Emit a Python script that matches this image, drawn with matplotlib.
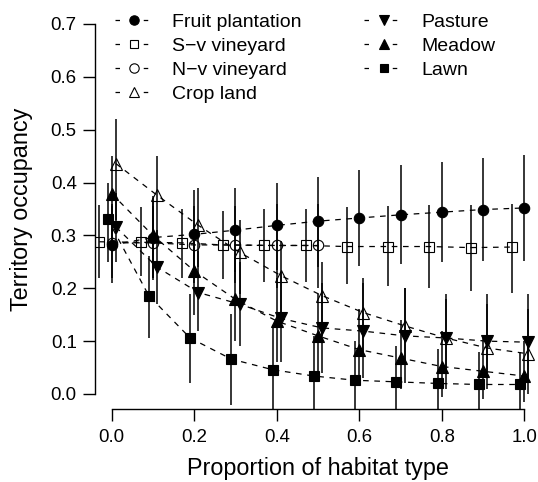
import numpy as np
import matplotlib
matplotlib.use("Agg")
import matplotlib.pyplot as plt
from matplotlib.lines import Line2D

plt.rcParams['font.family'] = ['Liberation Sans', 'DejaVu Sans']

# habitat proportion classes
proportion = [0.0, 0.1, 0.2, 0.3, 0.4, 0.5, 0.6, 0.7, 0.8, 0.9, 1.0]

fruit = [0.282, 0.296, 0.302, 0.310, 0.319, 0.327, 0.333, 0.339, 0.344, 0.349, 0.352]
fruit_lo = [0.21, 0.22, 0.225, 0.23, 0.235, 0.24, 0.243, 0.246, 0.249, 0.251, 0.252]
fruit_hi = [0.36, 0.375, 0.385, 0.39, 0.40, 0.411, 0.423, 0.433, 0.439, 0.447, 0.452]

sv = [0.288, 0.287, 0.286, 0.282, 0.281, 0.281, 0.279, 0.279, 0.279, 0.277, 0.278]
sv_lo = [0.220, 0.224, 0.220, 0.218, 0.211, 0.211, 0.208, 0.205, 0.200, 0.195, 0.192]
sv_hi = [0.357, 0.354, 0.350, 0.347, 0.350, 0.350, 0.354, 0.355, 0.357, 0.358, 0.360]

nv = [0.286, 0.286, 0.282, 0.282, 0.281, 0.281]
nv_lo = [0.22, 0.215, 0.21, 0.21, 0.20, 0.20]
nv_hi = [0.355, 0.355, 0.355, 0.355, 0.36, 0.36]

crop = [0.436, 0.376, 0.319, 0.268, 0.224, 0.186, 0.154, 0.129, 0.106, 0.087, 0.076]
crop_lo = [0.33, 0.29, 0.24, 0.19, 0.15, 0.11, 0.08, 0.06, 0.04, 0.03, 0.02]
crop_hi = [0.52, 0.45, 0.39, 0.33, 0.29, 0.25, 0.22, 0.20, 0.18, 0.17, 0.16]

pasture = [0.316, 0.240, 0.192, 0.170, 0.143, 0.125, 0.119, 0.110, 0.106, 0.100, 0.098]
pasture_lo = [0.25, 0.17, 0.12, 0.09, 0.06, 0.04, 0.03, 0.02, 0.01, 0.01, 0.0]
pasture_hi = [0.38, 0.31, 0.27, 0.25, 0.23, 0.21, 0.21, 0.20, 0.19, 0.19, 0.19]

meadow = [0.379, 0.300, 0.233, 0.179, 0.138, 0.110, 0.084, 0.068, 0.052, 0.043, 0.034]
meadow_lo = [0.29, 0.22, 0.15, 0.10, 0.06, 0.04, 0.02, 0.01, -0.005, -0.01, -0.015]
meadow_hi = [0.45, 0.37, 0.31, 0.26, 0.22, 0.19, 0.16, 0.14, 0.12, 0.11, 0.10]

lawn = [0.331, 0.186, 0.106, 0.066, 0.046, 0.034, 0.026, 0.023, 0.020, 0.018, 0.018]
lawn_lo = [0.25, 0.106, 0.021, -0.02, -0.04, -0.04, -0.04, -0.04, -0.04, -0.04, -0.04]
lawn_hi = [0.40, 0.262, 0.189, 0.151, 0.13, 0.11, 0.10, 0.09, 0.085, 0.08, 0.08]

labels = ["Fruit plantation", "S\u2212v vineyard", "N\u2212v vineyard", "Crop land",
          "Pasture", "Meadow", "Lawn"]

# (values, lower, upper, x dodge, marker, size, filled)
series = [
    (fruit, fruit_lo, fruit_hi, 0.0, 'o', 7.5, True),
    (sv, sv_lo, sv_hi, -0.03, 's', 6.5, False),
    (nv, nv_lo, nv_hi, 0.0, 'o', 7.5, False),
    (crop, crop_lo, crop_hi, 0.01, '^', 8.5, False),
    (pasture, pasture_lo, pasture_hi, 0.01, 'v', 8.5, True),
    (meadow, meadow_lo, meadow_hi, 0.0, '^', 8.5, True),
    (lawn, lawn_lo, lawn_hi, -0.01, 's', 6.5, True),
]

fig = plt.figure(figsize=(5.38, 4.82), dpi=100)
ax = fig.add_axes([95.2 / 538, 1 - 408.8 / 482, 445.6 / 538, 399.6 / 482])

handles = []
for vals, lo, hi, dodge, mk, ms, filled in series:
    x = np.array(proportion[:len(vals)]) + dodge
    ax.vlines(x, lo, hi, color='black', lw=1.1, zorder=2)
    fc = 'black' if filled else 'none'
    ax.plot(x, vals, color='black', lw=0.9, dashes=(4.5, 4.5),
            marker=mk, ms=ms, mfc=fc, mec='black', mew=0.8, zorder=3)
    handles.append(Line2D([], [], color='black', lw=0.9, dashes=(3.6, 19.0),
                          marker=mk, ms=ms * 0.9, mfc=fc, mec='black', mew=0.8))

ax.set_xlim(-0.04, 1.04)
ax.set_ylim(-0.028, 0.728)

for s in ['top', 'right']:
    ax.spines[s].set_visible(False)
ax.spines['left'].set_bounds(0, 0.7)
ax.spines['bottom'].set_bounds(0, 1)
for s in ['left', 'bottom']:
    ax.spines[s].set_linewidth(1.0)

ax.set_xticks([0.0, 0.2, 0.4, 0.6, 0.8, 1.0])
ax.set_xticklabels(["0.0", "0.2", "0.4", "0.6", "0.8", "1.0"])
ax.set_yticks([0.0, 0.1, 0.2, 0.3, 0.4, 0.5, 0.6, 0.7])
ax.set_yticklabels(["0.0", "0.1", "0.2", "0.3", "0.4", "0.5", "0.6", "0.7"])
ax.tick_params(direction='out', length=8.5, width=1.0, labelsize=13.4)
ax.tick_params(axis='y', pad=4.8)
ax.tick_params(axis='x', pad=6)

ax.set_xlabel("Proportion of habitat type", fontsize=16.8)
ax.set_ylabel("Territory occupancy", fontsize=16.8)
ax.xaxis.set_label_coords(0.5, -0.121)
ax.yaxis.set_label_coords(-0.1396, 0.5)

ax.legend(handles, labels, ncol=2, frameon=False, fontsize=14,
          loc='upper left', bbox_to_anchor=(115 / 538, 1 - 13 / 482),
          bbox_transform=fig.transFigure, borderpad=0, borderaxespad=0,
          handlelength=2.0, handletextpad=0.95, labelspacing=0.33,
          columnspacing=3.2)

fig.savefig("out.png", dpi=100)
